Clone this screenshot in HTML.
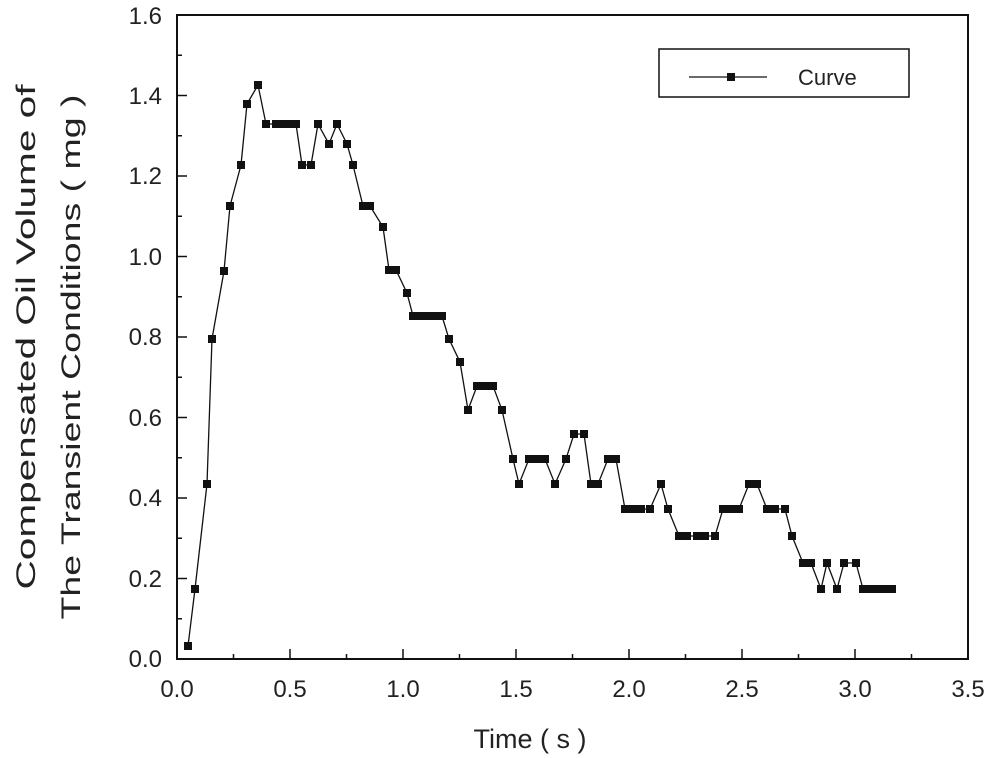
<!DOCTYPE html>
<html><head><meta charset="utf-8"><style>
html,body{margin:0;padding:0;background:#fff;}
svg{display:block;}
text{font-family:"Liberation Sans",sans-serif;fill:#222;}
</style></head><body>
<svg width="991" height="758" viewBox="0 0 991 758" xmlns="http://www.w3.org/2000/svg">
<rect x="177" y="15" width="791" height="644" fill="none" stroke="#111" stroke-width="2"/>
<g stroke="#111" stroke-width="1.5" id="ticks"></g>
<g font-size="24" text-anchor="middle">
<text x="177" y="697">0.0</text><text x="290" y="697">0.5</text><text x="403" y="697">1.0</text><text x="516" y="697">1.5</text><text x="629" y="697">2.0</text><text x="742" y="697">2.5</text><text x="855" y="697">3.0</text><text x="968" y="697">3.5</text>
</g>
<g font-size="24" text-anchor="end">
<text x="162" y="667">0.0</text><text x="162" y="587">0.2</text><text x="162" y="506">0.4</text><text x="162" y="426">0.6</text><text x="162" y="345">0.8</text><text x="162" y="265">1.0</text><text x="162" y="184">1.2</text><text x="162" y="104">1.4</text><text x="162" y="24">1.6</text>
</g>
<text x="530" y="748" font-size="27" text-anchor="middle" font-family="DejaVu Sans, sans-serif">Time ( s )</text>
<g font-size="27" text-anchor="middle" font-family="DejaVu Sans, sans-serif" fill="#222">
<text transform="translate(35,337) rotate(-90)" textLength="505" lengthAdjust="spacingAndGlyphs">Compensated Oil Volume of</text>
<text transform="translate(80,357) rotate(-90)" textLength="525" lengthAdjust="spacingAndGlyphs">The Transient Conditions ( mg )</text>
</g>
<rect x="659" y="49" width="250" height="48" fill="none" stroke="#111" stroke-width="1.5"/>
<line x1="689" y1="77" x2="767" y2="77" stroke="#111" stroke-width="1.3"/>
<rect x="727" y="73" width="8" height="8" fill="#111"/>
<text x="798" y="85" font-size="22" font-family="DejaVu Sans, sans-serif">Curve</text>
<polyline id="curve" fill="none" stroke="#111" stroke-width="1.3"/>
<g id="marks" fill="#111"></g>
</svg>
<script>
var pts=[[188,646],[195,589],[207,484],[212,339],[224,271],[230,206],[241,165],[247,104],[258,85],[266,124],[276,124],[283,124],[290,124],[296,124],[302,165],[311,165],[318,124],[329,144],[337,124],[347,144],[353,165],[363,206],[370,206],[383,227],[389,270],[396,270],[407,293],[413,316],[421,316],[428,316],[435,316],[442,316],[449,339],[460,362],[468,410],[477,386],[485,386],[493,386],[502,410],[513,459],[519,484],[529,459],[537,459],[545,459],[555,484],[566,459],[574,434],[584,434],[591,484],[598,484],[608,459],[616,459],[625,509],[633,509],[641,509],[650,509],[661,484],[668,509],[679,536],[687,536],[697,536],[705,536],[715,536],[723,509],[731,509],[739,509],[749,484],[757,484],[767,509],[775,509],[785,509],[792,536],[803,563],[811,563],[821,589],[827,563],[837,589],[844,563],[856,563],[863,589],[871,589],[879,589],[886,589],[892,589]];
document.getElementById('curve').setAttribute('points',pts.map(function(p){return p.join(',')}).join(' '));
var m='';pts.forEach(function(p){m+='<rect x="'+(p[0]-4)+'" y="'+(p[1]-4)+'" width="8" height="8"/>';});
document.getElementById('marks').innerHTML=m;
var t='';
for(var i=1;i<14;i++){var x=177+i*56.5;var l=(i%2==0)?10:5;t+='<line x1="'+x+'" y1="659" x2="'+x+'" y2="'+(659-l)+'"/>';}
for(var j=1;j<16;j++){var y=659-j*40.25;var l=(j%2==0)?10:5;t+='<line x1="177" y1="'+y+'" x2="'+(177+l)+'" y2="'+y+'"/>';}
document.getElementById('ticks').innerHTML=t;
</script>
</body></html>
